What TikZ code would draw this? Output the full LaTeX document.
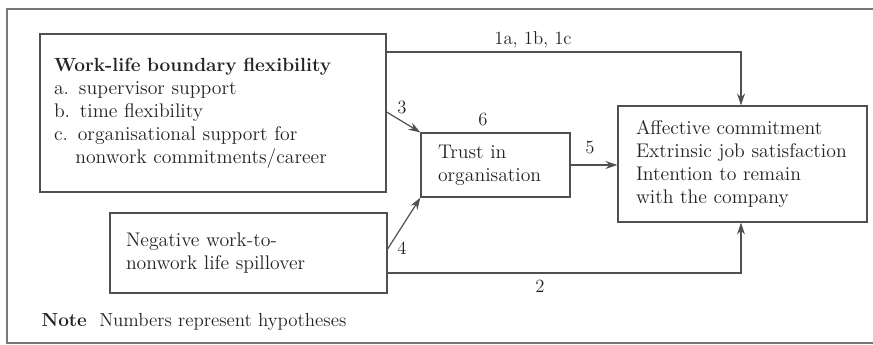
\documentclass[tikz,border=0pt]{standalone}
\usetikzlibrary{arrows.meta,positioning}
\definecolor{linegray}{RGB}{80,80,80}
\definecolor{framegray}{RGB}{120,120,120}
\definecolor{textgray}{RGB}{35,35,35}
\tikzset{
  box/.style={draw=linegray, line width=0.9pt, align=left, text=textgray, font=\fontsize{14.8}{17.25}\selectfont, inner ysep=0pt},
  hyp/.style={text=textgray, font=\fontsize{14}{15}\selectfont, inner sep=1pt},
  link/.style={draw=linegray, line width=0.9pt, -{Stealth[length=9pt,width=6pt]}},
}
\begin{document}
\begin{tikzpicture}[x=0.75pt,y=0.75pt,yscale=-1,xscale=1]
\useasboundingbox (0,0) rectangle (873,344);

%Shape: Frame
\draw [color=framegray, line width=0.9pt] (873,9) -- (7,9) -- (7,343) -- (873,343) ;

%Shape: Rectangle [id:wlbf]
\node (wlbf) [box, minimum width=346*0.75pt, minimum height=158*0.75pt, text width=318*0.75pt, inner xsep=14*0.75pt] at (213,113)
  {\fontsize{14.3}{17.25}\selectfont\textbf{Work-life boundary flexibility}\\\fontsize{14.8}{17.25}\selectfont a. supervisor support\\b. time flexibility\\c. organisational support for\\\hspace*{16pt}nonwork commitments/career};
%Shape: Rectangle [id:trust]
\node (trust) [box, minimum width=149*0.75pt, minimum height=64*0.75pt, text width=115*0.75pt, inner xsep=17*0.75pt] at (495.5,165)
  {Trust in\\organisation};
%Shape: Rectangle [id:outc]
\node (outc) [box, minimum width=249*0.75pt, minimum height=116*0.75pt, text width=213*0.75pt, inner xsep=18*0.75pt] at (742.5,164)
  {Affective commitment\\Extrinsic job satisfaction\\Intention to remain\\with the company};
%Shape: Rectangle [id:neg]
\node (neg) [box, minimum width=277*0.75pt, minimum height=80*0.75pt, text width=245*0.75pt, inner xsep=16*0.75pt] at (248.5,253)
  {Negative work-to-\\nonwork life spillover};

%Bends
\coordinate (c1) at (741,52);
\coordinate (c2) at (741,273);
\coordinate (s3) at (0,112);
\coordinate (s4) at (0,249);

%Straight Lines
\draw [link] (wlbf.east |- c1) -- (c1) -- (outc.north -| c1) ;
\draw [link] (wlbf.east |- s3) -- (trust.north west) ;
\draw [link] (neg.east |- s4) -- (trust.south west) ;
\draw [link] (trust.east) -- (outc.west |- trust.east) ;
\draw [link] (neg.east |- c2) -- (c2) -- (outc.south -| c2) ;

% Text Node
\node (h1) [hyp] at (533,40) {1a, 1b, 1c};
% Text Node
\node (h3) [hyp] at (402,107) {3};
% Text Node
\node (h4) [hyp] at (402,248) {4};
% Text Node
\node (h5) [hyp] at (590,147) {5};
% Text Node
\node (h6) [hyp] at (483,119) {6};
% Text Node
\node (h2) [hyp] at (540,286) {2};
% Text Node
\node (note) [hyp, anchor=west, font=\fontsize{14.2}{16}\selectfont] at (40,322) {\textbf{Note}\ \ Numbers represent hypotheses};

\end{tikzpicture}
\end{document}
